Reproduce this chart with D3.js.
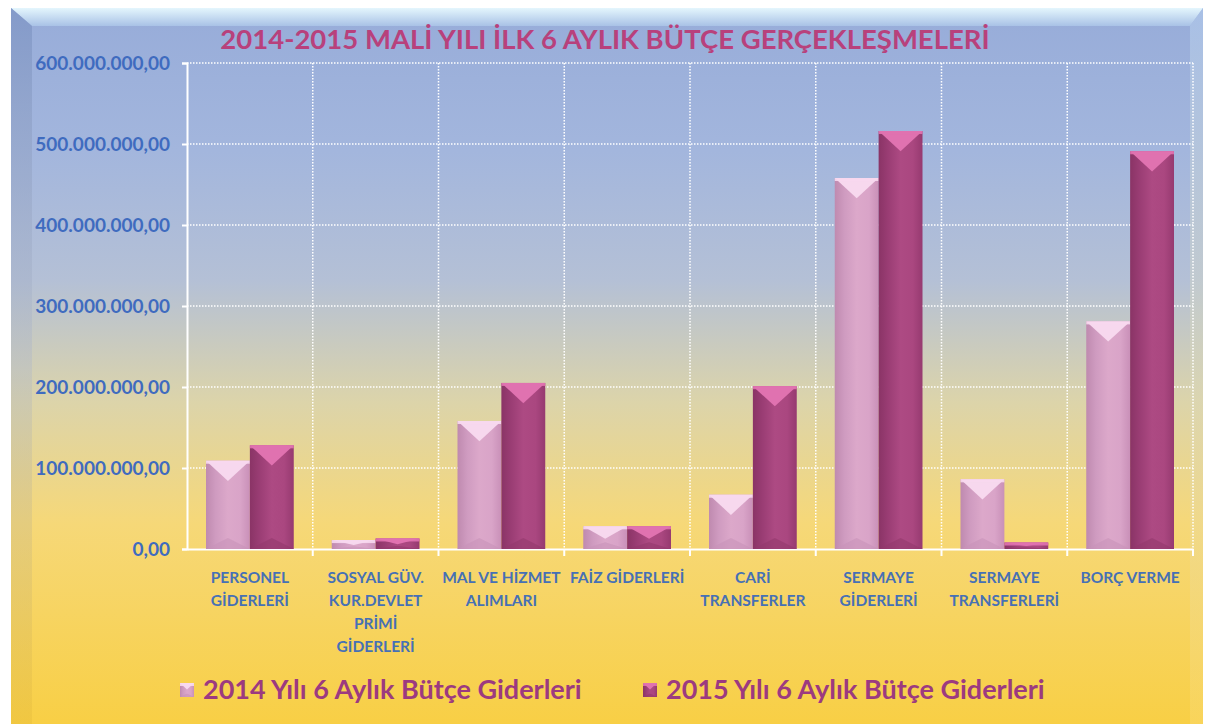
<!DOCTYPE html>
<html>
<head>
<meta charset="utf-8">
<script src="https://cdn.jsdelivr.net/npm/d3@7"></script>
<style>
  html, body { margin: 0; padding: 0; background: #fff; }
  text { font-family: Lato, "Open Sans", sans-serif; }
</style>
</head>
<body>
<div id="chart"></div>
<script>
const categories = [
  "PERSONEL\nGİDERLERİ",
  "SOSYAL GÜV.\nKUR.DEVLET\nPRİMİ\nGİDERLERİ",
  "MAL VE HİZMET\nALIMLARI",
  "FAİZ GİDERLERİ",
  "CARİ\nTRANSFERLER",
  "SERMAYE\nGİDERLERİ",
  "SERMAYE\nTRANSFERLERİ",
  "BORÇ VERME"
];
const series = ["2014 Yılı 6 Aylık Bütçe Giderleri", "2015 Yılı 6 Aylık Bütçe Giderleri"];
const values2014 = [109000000, 11000000, 158000000, 28000000, 67000000, 458000000, 86000000, 281000000];
const values2015 = [128000000, 13000000, 205000000, 28000000, 201000000, 516000000, 8000000, 491000000];
const yTicks = [0, 100000000, 200000000, 300000000, 400000000, 500000000, 600000000];
const title = "2014-2015 MALİ YILI İLK 6 AYLIK BÜTÇE GERÇEKLEŞMELERİ";

const width = 1210, height = 724;
const margin = {top: 63, left: 187, right: 17, bottom: 175};

const tr = d3.formatLocale({decimal: ",", thousands: ".", grouping: [3], currency: ["", ""]});
const fmt = tr.format(",.2f");

const svg = d3.select('#chart').append('svg')
  .attr('width', width)
  .attr('height', height);

const defs = svg.append('defs');

// panel background gradient
const bg = defs.append('linearGradient').attr('id', 'bg').attr('x1', 0).attr('x2', 0).attr('y1', 0).attr('y2', 1);
[[0, '#97acd9'], [0.2, '#a3b6dd'], [0.38, '#b4c0d6'], [0.55, '#dcd4aa'], [0.72, '#f6d878'], [1, '#f8cf45']]
  .forEach(s => bg.append('stop').attr('offset', s[0]).attr('stop-color', s[1]));

const topBevel = defs.append('linearGradient').attr('id', 'topBevel').attr('x1', 0).attr('x2', 0).attr('y1', 0).attr('y2', 1);
topBevel.append('stop').attr('offset', 0).attr('stop-color', '#e4f6fd');
topBevel.append('stop').attr('offset', 1).attr('stop-color', '#a9c2e6');

const leftBevel = defs.append('linearGradient').attr('id', 'leftBevel').attr('x1', 0).attr('x2', 0).attr('y1', 0).attr('y2', 1);
leftBevel.append('stop').attr('offset', 0).attr('stop-color', '#7f96c6').attr('stop-opacity', 0.8);
leftBevel.append('stop').attr('offset', 0.5).attr('stop-color', '#b0b8c8').attr('stop-opacity', 0.4);
leftBevel.append('stop').attr('offset', 1).attr('stop-color', '#e3b838').attr('stop-opacity', 0.35);

const rightBevel = defs.append('linearGradient').attr('id', 'rightBevel').attr('x1', 0).attr('x2', 0).attr('y1', 0).attr('y2', 1);
rightBevel.append('stop').attr('offset', 0).attr('stop-color', '#b4cdef').attr('stop-opacity', 0.6);
rightBevel.append('stop').attr('offset', 1).attr('stop-color', '#fbe08a').attr('stop-opacity', 0.3);

// bar gradients
const barStyles = [
  {id: 'b2014', stops: ['#bf8aaf', '#cf9bc0', '#dca8ca', '#d9a4c8', '#c990b8'], cap: '#f7d8ee', foot: '#c893b9'},
  {id: 'b2015', stops: ['#8a3466', '#9a3d74', '#ad4a83', '#aa4780', '#963a70'], cap: '#e072b0', foot: '#93386c'}
];
barStyles.forEach(b => {
  const g = defs.append('linearGradient').attr('id', b.id).attr('x1', 0).attr('x2', 1).attr('y1', 0).attr('y2', 0);
  [0, 0.22, 0.5, 0.78, 1].forEach((o, i) => g.append('stop').attr('offset', o).attr('stop-color', b.stops[i]));
});

// panel
svg.append('rect').attr('x', 11).attr('y', 8).attr('width', 1192).attr('height', 716).attr('fill', 'url(#bg)');
svg.append('path').attr('d', 'M11,8 L1203,8 L1190,26 L32,26 Z').attr('fill', 'url(#topBevel)');
svg.append('path').attr('d', 'M11,8 L32,26 L32,724 L11,724 Z').attr('fill', 'url(#leftBevel)');
svg.append('path').attr('d', 'M1203,8 L1190,26 L1190,724 L1203,724 Z').attr('fill', 'url(#rightBevel)');

const x0 = d3.scaleBand()
  .domain(categories)
  .range([margin.left, width - margin.right]);

const x1 = d3.scaleBand()
  .domain(series)
  .range([19, x0.bandwidth() - 19]);

const y = d3.scaleLinear()
  .domain([0, 600000000])
  .range([height - margin.bottom, margin.top]);

// grid
const grid = svg.append('g');
grid.selectAll('.hg')
  .data(yTicks.slice(1))
  .join('line')
  .attr('x1', margin.left).attr('x2', width - margin.right)
  .attr('y1', d => y(d)).attr('y2', d => y(d))
  .attr('stroke', '#fff').attr('stroke-width', 1.5).attr('stroke-dasharray', '1.5,1.5');

grid.selectAll('.vg')
  .data(categories)
  .join('line')
  .attr('x1', d => x0(d) + x0.bandwidth()).attr('x2', d => x0(d) + x0.bandwidth())
  .attr('y1', y(600000000)).attr('y2', y(0))
  .attr('stroke', '#fff').attr('stroke-width', 1.5).attr('stroke-dasharray', '1.5,1.5');

// axes
const yAxis = d3.axisLeft(y).tickValues(yTicks).tickFormat(fmt).tickSize(5).tickPadding(12);
const gy = svg.append('g').attr('transform', `translate(${margin.left},0)`).call(yAxis);
gy.select('.domain').attr('stroke', '#fff').attr('stroke-width', 2);
gy.selectAll('.tick line').attr('stroke', '#fff').attr('stroke-width', 2);
gy.selectAll('.tick text')
  .attr('fill', '#3f6bbf')
  .attr('font-size', 19)
  .attr('font-weight', 'bold')
  .style('font-family', 'Lato, sans-serif');

const xAxis = d3.axisBottom(x0).tickSize(0).tickFormat('');
const gx = svg.append('g').attr('transform', `translate(0,${y(0)})`).call(xAxis);
gx.select('.domain').attr('stroke', '#fff').attr('stroke-width', 2);

gx.selectAll('.tk')
  .data(categories)
  .join('line')
  .attr('x1', d => x0(d) + x0.bandwidth()).attr('x2', d => x0(d) + x0.bandwidth())
  .attr('y1', 0).attr('y2', 7)
  .attr('stroke', '#fff').attr('stroke-width', 2);

// category labels
const lab = svg.append('g');
lab.selectAll('text')
  .data(categories)
  .join('text')
  .attr('x', d => x0(d) + x0.bandwidth() / 2)
  .attr('y', y(0) + 34)
  .attr('text-anchor', 'middle')
  .attr('fill', '#4670b5')
  .attr('font-size', 15.5)
  .attr('font-weight', 'bold')
  .each(function(d) {
    const t = d3.select(this);
    d.split('\n').forEach((line, i) => {
      t.append('tspan').attr('x', x0(d) + x0.bandwidth() / 2).attr('dy', i ? 23 : 0).text(line);
    });
  });

// bars
const rows = categories.map((c, i) => ({cat: c, vals: [values2014[i], values2015[i]]}));

function drawBar(g, bx, by, bw, bh, s) {
  g.append('rect').attr('x', bx).attr('y', by).attr('width', bw).attr('height', bh)
    .attr('fill', `url(#${s.id})`);
  const d = Math.min(bw * 0.46, bh * 0.55);
  g.append('path')
    .attr('d', `M${bx},${by} L${bx + bw},${by} L${bx + bw / 2},${by + d} Z`)
    .attr('fill', s.cap);
  g.append('rect').attr('x', bx).attr('y', by).attr('width', bw).attr('height', Math.min(3, bh))
    .attr('fill', s.cap).attr('opacity', 0.9);
  const f = Math.min(bw * 0.25, bh * 0.3);
  g.append('path')
    .attr('d', `M${bx},${by + bh} L${bx + bw},${by + bh} L${bx + bw / 2},${by + bh - f} Z`)
    .attr('fill', s.foot).attr('opacity', 0.6);
}

const groups = svg.append('g').selectAll('g')
  .data(rows)
  .join('g')
  .attr('transform', d => `translate(${x0(d.cat)},0)`);

groups.each(function(d) {
  const g = d3.select(this);
  d.vals.forEach((v, i) => {
    const bx = x1(series[i]);
    drawBar(g.append('g'), bx, y(v), x1.bandwidth(), y(0) - y(v), barStyles[i]);
  });
});

// title
svg.append('text')
  .attr('x', 605)
  .attr('y', 49)
  .attr('text-anchor', 'middle')
  .attr('fill', '#b8417c')
  .attr('font-size', 27.5)
  .attr('font-weight', 'bold')
  .text(title);

// legend
const legendX = [180, 643];
const leg = svg.append('g').selectAll('g')
  .data(series)
  .join('g')
  .attr('transform', (d, i) => `translate(${legendX[i]},683)`);

leg.each(function(d, i) {
  const g = d3.select(this);
  drawBar(g, 0, 0, 14, 14, barStyles[i]);
});

leg.append('text')
  .attr('x', 23)
  .attr('y', 16)
  .attr('fill', '#9c3a80')
  .attr('font-size', 27)
  .attr('font-weight', 'bold')
  .text(d => d);
</script>
</body>
</html>
